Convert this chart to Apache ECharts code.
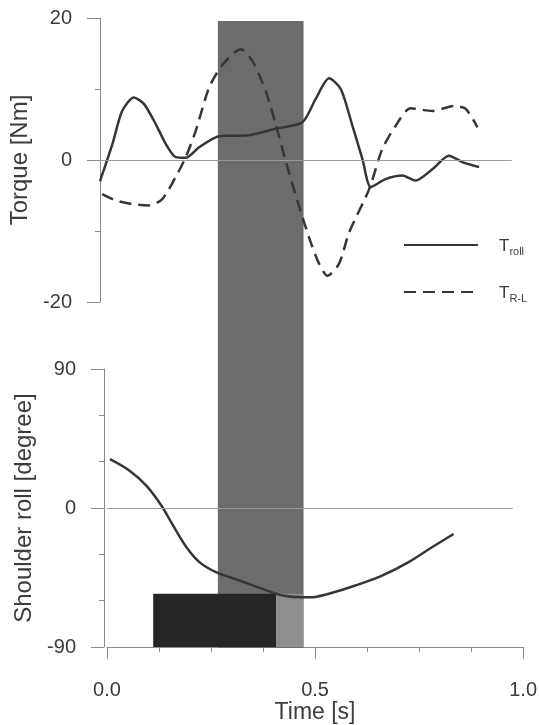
<!DOCTYPE html>
<html>
<head>
<meta charset="utf-8">
<script src="https://cdn.jsdelivr.net/npm/echarts@6/dist/echarts.min.js"></script>
<style>
  html, body { margin: 0; padding: 0; background: #ffffff; }
  #chart { width: 540px; height: 725px; }
</style>
</head>
<body>
<div id="chart"></div>
<script>
// Roll torque (solid) over time [s], torque in Nm
const trollTime   = [0.000, 0.030, 0.053, 0.081, 0.105, 0.133, 0.157, 0.181, 0.205, 0.237, 0.277, 0.300, 0.356, 0.420, 0.484, 0.516, 0.548, 0.576, 0.604, 0.628, 0.648, 0.683, 0.723, 0.755, 0.795, 0.835, 0.867, 0.907];
const trollTorque = [-3.0, 2.3, 6.9, 8.8, 7.9, 5.1, 2.3, 0.4, 0.3, 1.8, 3.2, 3.4, 3.5, 4.4, 5.3, 8.6, 11.5, 10.0, 4.8, 0.1, -3.8, -2.7, -2.2, -2.9, -1.3, 0.6, -0.3, -1.0];

// Right-minus-left torque (dashed)
const trlTime   = [0.005, 0.038, 0.077, 0.117, 0.149, 0.181, 0.205, 0.229, 0.261, 0.293, 0.337, 0.364, 0.396, 0.420, 0.444, 0.472, 0.500, 0.524, 0.544, 0.572, 0.596, 0.644, 0.675, 0.707, 0.743, 0.795, 0.847, 0.875, 0.903];
const trlTorque = [-4.8, -5.7, -6.2, -6.4, -5.5, -2.4, 0.4, 4.1, 10.2, 13.4, 15.6, 14.0, 9.8, 5.1, -0.1, -5.7, -10.9, -14.6, -16.3, -14.6, -10.2, -4.1, 1.5, 4.8, 7.3, 6.9, 7.6, 7.2, 4.6];

// Shoulder roll angle [degree]
const rollTime  = [0.007, 0.055, 0.095, 0.131, 0.159, 0.191, 0.222, 0.262, 0.318, 0.374, 0.422, 0.470, 0.500, 0.533, 0.597, 0.661, 0.725, 0.781, 0.833];
const rollAngle = [31.6, 24.0, 14.4, 1.5, -11.4, -25.4, -35.0, -41.5, -46.9, -52.3, -56.6, -57.8, -57.5, -55.5, -50.1, -43.7, -35.0, -25.4, -16.8];

// Shaded phase (time window) and the dark block in the angle panel
const phaseWindow = [0.27, 0.475];
const blockWindow = [0.111, 0.406];
const blockTop = -55.5;
const blockLightEnd = 0.472;

// Axis ranges / tick steps
const torqueRange = [-20, 20];
const torqueStep = 20;
const angleRange = [-90, 90];
const angleStep = 90;
const timeRange = [0, 1];
const timeStep = 0.5;
const zeroLineEndTop = 0.985;
const zeroLineEndBottom = 0.975;

const zip = (xs, ys) => xs.map((x, i) => [x, ys[i]]);

const INK = '#363636';
const AXIS = '#8a8a8a';
const TEXT = '#3c3c3c';
const FONT = 'Liberation Sans, Arial, sans-serif';

function valueAxisY(gridIndex, range, step, minorSplit, name, nameGap, offset) {
  return {
    type: 'value', gridIndex: gridIndex,
    min: range[0], max: range[1], interval: step,
    offset: offset,
    axisLine: { show: true, onZero: false, lineStyle: { color: AXIS, width: 1 } },
    axisTick: { show: true, length: 13, lineStyle: { color: AXIS, width: 1 } },
    minorTick: { show: true, splitNumber: minorSplit, length: 5, lineStyle: { color: AXIS, width: 1 } },
    axisLabel: { margin: 28, fontSize: 20, color: TEXT, fontFamily: FONT },
    splitLine: { show: false },
    minorSplitLine: { show: false },
    name: name, nameLocation: 'middle', nameGap: nameGap,
    nameTextStyle: { fontSize: 24, color: TEXT, fontFamily: FONT }
  };
}

const chart = echarts.init(document.getElementById('chart'), null, { renderer: 'canvas' });

chart.setOption({
  animation: false,
  backgroundColor: '#ffffff',
  grid: [
    { left: 100, width: 418, top: 18, height: 284 },   // torque panel
    { left: 107, width: 418, top: 369, height: 279 },  // shoulder roll panel
    { left: 105, width: 418, top: 21, height: 627 }    // shared phase band
  ],
  xAxis: [
    { type: 'value', gridIndex: 0, min: timeRange[0], max: timeRange[1], show: false },
    {
      type: 'value', gridIndex: 1, min: timeRange[0], max: timeRange[1], interval: timeStep,
      axisLine: { show: true, onZero: false, lineStyle: { color: AXIS, width: 1 } },
      axisTick: { show: true, length: 12, lineStyle: { color: AXIS, width: 1 } },
      minorTick: { show: true, splitNumber: 4, length: 5, lineStyle: { color: AXIS, width: 1 } },
      axisLabel: { margin: 33, fontSize: 20, color: TEXT, fontFamily: FONT, formatter: v => v.toFixed(1) },
      splitLine: { show: false },
      name: 'Time [s]', nameLocation: 'middle', nameGap: 51,
      nameTextStyle: { fontSize: 23, color: TEXT, fontFamily: FONT }
    },
    { type: 'value', gridIndex: 2, min: timeRange[0], max: timeRange[1], show: false }
  ],
  yAxis: [
    valueAxisY(0, torqueRange, torqueStep, 2, 'Torque [Nm]', 63, 0),
    valueAxisY(1, angleRange, angleStep, 3, 'Shoulder roll [degree]', 62, 3),
    { type: 'value', gridIndex: 2, min: 0, max: 1, show: false }
  ],
  legend: {
    orient: 'vertical',
    left: 398, top: 233,
    itemWidth: 74, itemHeight: 2, itemGap: 28,
    itemStyle: { color: 'rgba(0,0,0,0)', borderWidth: 0 },
    data: ['Troll', 'TR-L'],
    formatter: function (name) {
      return name === 'Troll' ? '{g|}{T|T}{s|roll}' : '{g|}{T|T}{s|R-L}';
    },
    textStyle: {
      color: TEXT, fontFamily: FONT,
      rich: {
        g: { width: 16 },
        T: { fontSize: 17, color: TEXT, fontFamily: FONT, lineHeight: 20, verticalAlign: 'bottom' },
        s: { fontSize: 11, color: TEXT, fontFamily: FONT, lineHeight: 14, verticalAlign: 'bottom', padding: [0, 0, -2, 0] }
      }
    }
  },
  series: [
    {
      // shaded phase spanning both panels
      type: 'line', xAxisIndex: 2, yAxisIndex: 2, data: [], z: 1, silent: true,
      markArea: {
        silent: true,
        itemStyle: { color: '#6c6c6c' },
        data: [[{ coord: [phaseWindow[0], 0] }, { coord: [phaseWindow[1], 1] }]]
      }
    },
    {
      name: 'Troll', type: 'line', xAxisIndex: 0, yAxisIndex: 0, z: 4,
      data: zip(trollTime, trollTorque),
      smooth: 0.25, symbol: 'none', showSymbol: false,
      lineStyle: { color: INK, width: 2.5, type: 'solid' },
      itemStyle: { color: INK },
      markLine: {
        silent: true, symbol: ['none', 'none'], label: { show: false },
        lineStyle: { color: '#9a9a9a', width: 1, type: 'solid' },
        data: [[{ coord: [0, 0] }, { coord: [zeroLineEndTop, 0] }]]
      }
    },
    {
      name: 'TR-L', type: 'line', xAxisIndex: 0, yAxisIndex: 0, z: 4,
      data: zip(trlTime, trlTorque),
      smooth: 0.25, symbol: 'none', showSymbol: false,
      lineStyle: { color: INK, width: 2.5, type: [12, 7] },
      itemStyle: { color: INK }
    },
    {
      name: 'Shoulder roll', type: 'line', xAxisIndex: 1, yAxisIndex: 1, z: 4,
      data: zip(rollTime, rollAngle),
      smooth: 0.35, symbol: 'none', showSymbol: false,
      lineStyle: { color: INK, width: 2.5 },
      itemStyle: { color: INK },
      markLine: {
        silent: true, symbol: ['none', 'none'], label: { show: false },
        lineStyle: { color: '#9a9a9a', width: 1, type: 'solid' },
        data: [[{ coord: [0, 0] }, { coord: [zeroLineEndBottom, 0] }]]
      }
    },
    {
      // dark block at the bottom of the angle panel
      type: 'line', xAxisIndex: 1, yAxisIndex: 1, data: [], z: 2, silent: true,
      markArea: {
        silent: true,
        data: [
          [{ coord: [blockWindow[1], angleRange[0]], itemStyle: { color: '#8e8e8e' } }, { coord: [blockLightEnd, blockTop] }],
          [{ coord: [blockWindow[0], angleRange[0]], itemStyle: { color: '#262626' } }, { coord: [blockWindow[1], blockTop] }]
        ]
      }
    }
  ]
});
</script>
</body>
</html>
